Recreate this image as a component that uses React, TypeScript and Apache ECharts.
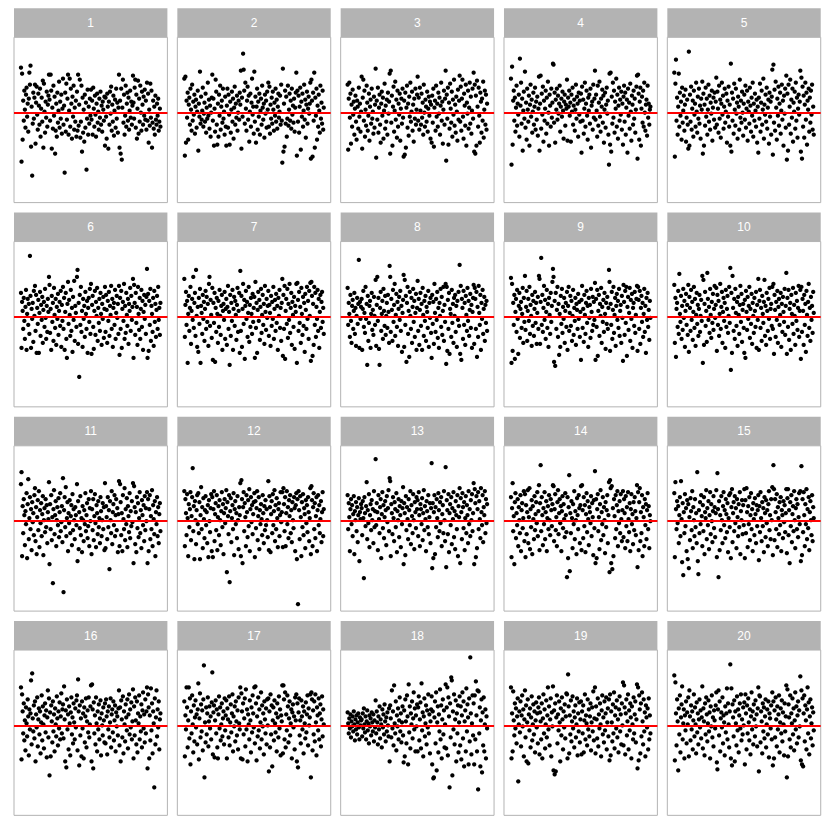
import React, { useEffect, useRef } from "react";
import * as echarts from "echarts";

// Residual values per panel (plot units: 0 = red reference line), in index order
const panelLabels = ["1","2","3","4","5","6","7","8","9","10","11","12","13","14","15","16","17","18","19","20"];

const panel1 = [
45,-49,39,-27,12,-8,22,3,-15,18,25,-4,9,-19,14,40,28,47,-34,6,-63,-11,20,-6,15,
28,-31,10,26,-2,-17,19,7,-12,24,-24,4,15,-9,32,-35,29,1,-20,11,-5,21,-14,8,17,
38,13,-8,38,22,-36,5,-16,27,-3,16,-41,-18,9,-24,20,-10,2,31,-15,11,-6,18,-21,4,
34,-12,7,-60,20,-19,29,-7,14,38,-22,2,34,-14,24,9,-26,16,-4,27,-17,5,-9,12,-24,
21,-18,38,-13,8,33,-25,-9,27,-39,15,-20,3,-29,18,-15,10,-57,-6,23,-22,6,-11,14,-3,
23,-7,12,-22,25,4,-14,17,-2,-24,9,19,-10,1,-17,14,-5,21,-12,7,-19,11,3,-8,16,
-33,15,-4,-26,19,6,-36,11,-12,21,-1,26,-18,8,-9,17,-23,2,13,-15,24,-6,10,-20,5,
38,-35,12,-41,24,-47,5,33,-10,18,-22,-3,27,-14,9,20,-8,15,-17,2,22,-5,11,-12,7,
37,10,-6,25,33,-15,18,-26,4,32,-21,14,-9,27,0,-18,21,8,-12,16,-3,23,-7,12,-17,
30,-8,19,-30,3,-13,29,-5,22,-35,-10,12,-16,6,-22,17,-7,-12,9,-3,14,-18,-9,4,-14];

const panel2 = [
34,-43,36,-30,12,-5,20,-27,8,15,-12,24,3,-18,28,-8,11,-2,18,-21,6,13,-15,1,22,
-38,9,-4,41,-11,16,-7,2,25,-14,-1,10,-9,19,-20,5,-6,30,-3,13,-16,7,-24,0,15,
38,-8,14,-33,4,-19,33,21,-12,-32,9,-24,18,-3,27,-17,6,12,-10,24,-6,1,-22,16,-14,
-33,7,24,-15,18,-2,-32,11,-20,3,21,-9,14,-26,5,26,-12,9,-5,17,-18,0,12,-7,20,
8,42,-36,15,-4,59,43,22,-11,30,4,-18,12,26,-7,17,-29,1,19,-14,10,34,-2,6,-21,
41,-9,16,-30,6,24,-17,11,-4,19,-22,2,14,-12,27,5,-7,9,-25,18,-1,12,-15,21,3,
30,-14,26,-21,8,-6,15,-11,21,3,-18,10,-3,24,-9,13,-16,6,19,-5,1,17,-12,28,-8,
-50,44,-39,9,-34,22,-11,16,-24,-6,27,-13,3,19,-8,12,-16,24,-2,7,-10,14,-19,5,20,
40,-43,22,-9,17,-20,6,25,-37,11,-4,19,-14,2,28,-7,13,-25,8,21,-11,4,16,-1,9,
30,-46,33,12,-44,20,-8,40,-35,15,-3,24,-27,7,-14,18,2,-20,27,-6,10,-11,22,-17,5];

const panel3 = [
28,-37,14,30,-5,19,-31,8,-14,23,-2,11,-22,4,17,-9,-27,12,6,-16,25,-4,9,-19,1,
36,-36,15,33,-8,22,-24,3,-13,27,10,-18,-3,19,-28,6,13,-11,24,-6,1,-21,16,-15,8,
44,-45,12,-7,25,-20,5,18,-12,-30,9,21,-3,15,-26,2,29,-16,7,-9,13,-22,20,-1,11,
39,-41,42,-10,17,-33,6,26,-19,2,31,-7,13,-25,22,-14,9,-2,19,-28,4,14,-11,24,-5,
-44,12,-42,20,-35,5,27,-15,9,-23,16,-4,30,-9,1,21,-18,8,-29,14,-6,24,-12,3,18,
36,-8,15,-17,25,2,-12,19,-5,10,-22,28,0,-14,13,6,-9,21,-19,4,16,-3,11,-26,8,
-30,17,-10,24,-34,5,12,-18,27,-4,9,-14,20,-1,15,-22,7,30,-8,11,-31,3,22,-12,14,
42,-48,18,-6,25,-32,10,-16,29,4,-10,21,-24,13,-2,33,-13,8,-20,16,1,-28,23,-7,12,
37,-9,26,-18,14,33,-4,-26,19,7,-13,28,-33,10,-1,22,-16,5,30,-11,16,-21,2,24,-6,
40,-39,28,-41,17,-33,32,6,-14,25,-3,-30,20,11,-20,14,-8,31,-25,3,22,-12,18,-17,9];

const panel4 = [
34,-52,46,-32,12,22,-8,15,-19,5,27,-13,9,-2,18,-24,54,7,30,-11,14,-38,2,21,-6,
41,-15,10,-27,24,3,-9,17,-33,8,28,-4,13,-20,1,20,-12,6,25,-17,11,-7,16,-23,4,
36,-38,9,37,-16,19,-2,26,-29,12,-8,4,22,-21,15,-11,31,0,-33,18,7,-14,24,-5,10,
49,48,-10,20,-30,13,3,24,-7,17,-1,9,27,-19,6,14,-4,21,2,-26,11,18,-13,8,4,
33,-28,15,6,22,-3,10,-29,18,1,25,-12,7,13,-18,3,28,-6,16,9,-24,20,-2,12,-9,
19,-40,26,-8,13,-21,4,30,-14,9,22,-3,-27,15,2,18,-11,24,-35,7,11,-17,28,-5,14,
42,-7,18,2,-24,27,-13,10,31,-4,-19,14,6,23,-10,17,-30,3,20,-15,8,25,-1,12,-22,
-52,39,-32,40,-39,16,-11,30,-5,22,-20,11,4,34,-14,18,-26,7,25,-8,13,-2,21,-17,9,
-32,16,27,-9,20,-22,5,13,-40,24,-3,10,-16,29,1,-28,17,8,-12,22,-6,14,-20,3,26,
37,-46,38,19,-27,11,25,-33,4,16,-10,22,-14,30,0,-18,8,13,-23,27,-5,9,-12,3,6];

const panel5 = [
40,-44,29,53,-8,15,-22,6,39,-14,20,-3,11,-27,25,-10,2,17,-18,8,23,-29,-5,13,-12,
-36,61,-33,18,-9,26,-17,4,12,-24,22,-2,9,-14,30,1,-20,16,-6,24,-11,7,-26,14,3,
31,-41,19,-33,8,-13,25,-4,14,-22,3,28,-9,17,-17,10,-1,22,-28,5,15,-7,20,-15,11,
35,-12,21,4,-20,27,-6,13,-25,9,30,-2,17,-16,6,24,-10,1,19,-30,12,-4,26,-14,8,
-33,49,-39,20,-8,14,-21,29,3,-13,24,-1,10,-26,16,6,-17,33,-5,12,-10,21,0,-23,9,
18,-7,27,-15,4,22,-28,11,1,-11,25,7,-19,15,-3,30,-24,9,-8,19,2,-14,13,-30,6,
-40,15,-6,29,-19,10,22,-12,3,34,-26,8,-2,18,-9,25,-16,5,13,-31,20,-4,11,-22,16,
43,-42,48,-10,23,-18,31,5,-27,14,-3,26,-13,9,20,-21,2,28,-7,12,-33,17,-1,24,-15,
37,-47,19,-38,28,-12,6,33,-21,13,-5,24,-29,10,1,21,-16,30,-8,15,-25,4,18,-2,11,
42,-39,35,-46,26,-14,17,-25,8,30,-7,20,-32,12,3,24,-19,15,-10,22,-2,28,-17,6,-22];

const panel6 = [
24,-31,15,6,-12,19,-4,-22,10,27,-33,3,18,-8,13,-17,61,21,-31,8,-2,14,-25,26,1,
31,-14,22,-36,9,-7,17,-36,4,25,-19,12,-3,20,-26,7,15,-10,28,-1,-22,11,-15,18,5,
40,32,-16,8,-33,21,-5,14,-24,29,2,-11,18,-28,10,-2,23,-18,6,15,-9,26,-30,12,-4,
30,-12,19,-33,5,24,-22,-41,13,35,-7,17,2,-19,27,-14,9,-35,20,-3,36,-24,11,4,-10,
40,47,-27,14,-60,22,-8,30,-15,6,-30,18,-2,11,-20,25,3,-12,16,-36,9,19,-5,28,-17,
33,-37,12,21,-10,-32,6,26,-18,15,1,29,-24,9,-6,18,-14,24,3,-28,13,-2,20,-21,8,
30,-15,22,7,-26,16,-4,25,-19,11,2,31,-12,18,-30,9,14,-8,27,-22,4,21,-1,13,-17,
31,-38,19,-12,26,-31,8,15,-4,33,-22,11,-16,24,2,-9,18,-27,13,6,29,-14,21,-3,10,
38,-41,32,14,-18,24,-6,10,-28,30,3,-13,19,-22,8,27,-10,16,-33,5,22,-2,12,-17,20,
48,-41,23,-34,16,-8,28,-24,11,3,-15,19,-29,26,-5,13,-20,7,21,-12,30,-3,9,-18,14];

const panel7 = [
38,-20,12,25,-8,16,-46,3,21,-14,9,30,-27,6,18,-3,40,-11,14,24,-19,47,1,-30,10,
-35,19,-7,28,-46,11,4,-17,22,-2,15,-24,8,26,-12,20,-5,13,-29,33,40,-9,17,2,-21,
29,-43,14,-6,24,-45,9,-15,19,3,-26,16,-10,27,1,-18,11,22,-33,6,13,-3,25,-22,8,
18,-28,10,31,-12,5,-48,22,-19,14,-4,27,-33,8,20,-9,16,2,-23,12,29,-15,6,24,-36,
46,-14,21,-30,8,33,-7,17,-42,11,26,-2,15,-20,4,30,-25,12,-10,19,3,-17,23,-5,9,
20,-41,35,-11,14,-36,7,25,-4,17,-23,10,28,-16,2,22,-8,13,-27,31,5,-13,18,-1,11,
26,-19,12,4,-29,21,-9,15,-2,30,-22,8,17,-14,23,-6,11,-33,19,1,27,-11,9,-24,14,
38,-39,22,-12,31,-42,6,18,-7,28,-21,13,-3,33,-16,9,24,-28,15,2,-10,20,-32,11,5,
33,-46,34,17,-14,25,-6,10,-26,29,3,-18,20,-9,14,-35,23,7,-12,30,-2,16,-22,26,1,
34,-44,35,21,-39,13,-28,30,-8,24,-20,10,-2,27,-14,18,-31,5,22,-11,15,25,-5,9,-17];

const panel8 = [
29,-8,14,3,-20,22,-4,-26,11,17,-12,6,24,-17,9,-29,1,19,-7,13,57,-31,15,-2,10,
18,-33,8,26,-10,4,-16,30,-2,13,-48,21,-24,-6,11,16,-31,3,24,-13,7,-18,20,1,-8,
37,-29,12,40,-4,19,-32,-48,9,25,-14,3,16,-22,28,6,-9,21,-18,1,14,-11,22,5,-26,
51,40,-15,18,7,-24,27,-5,12,33,-19,2,23,-10,15,-29,8,20,-3,26,-14,11,-35,4,17,
42,-30,37,-8,21,-45,14,30,-17,6,-40,25,1,-12,19,-26,10,28,-5,16,-20,4,23,-33,9,
36,-14,18,-28,7,24,-9,13,-33,29,2,-19,16,-4,21,-24,10,5,-11,26,-30,14,-1,19,-16,
-41,22,-7,15,-27,33,4,-15,18,-3,25,-21,9,-31,14,1,28,-10,20,-18,6,30,-24,12,-5,
33,-47,30,-34,17,-12,24,-37,8,3,-20,27,-6,13,-26,19,1,22,-15,11,-30,16,-3,25,-9,
52,-37,31,-43,18,9,-22,26,-8,14,-28,21,2,-14,29,-4,16,-19,7,23,-11,12,-31,5,19,
32,-27,29,18,-12,25,-40,10,-20,31,4,-8,22,-33,14,-2,27,-17,8,20,-24,12,-6,16,-14];

const panel9 = [
39,-46,33,-34,14,-8,22,-42,5,18,-15,27,-2,-37,11,24,-21,8,15,-11,3,29,-26,19,-5,
41,-13,10,26,-24,6,18,-4,30,-17,12,1,-29,22,-9,16,-19,8,25,-6,14,-27,4,20,-12,
41,38,-27,15,59,-8,22,-15,9,31,-3,17,-22,5,27,-11,13,-30,19,2,-17,24,-5,11,35,
48,40,-45,16,-49,24,-12,7,30,-20,13,-38,3,-30,21,-7,28,-16,10,-2,19,-26,6,14,-10,
25,-33,11,30,-14,4,21,-9,16,-24,1,27,-18,9,-4,19,-28,13,7,-12,23,-2,15,-20,5,
-43,17,31,-11,8,-25,22,2,-17,14,26,-6,11,-30,19,-1,12,-21,28,5,-14,20,-8,15,-3,
34,-43,18,-10,27,-39,6,22,-19,13,1,29,-26,10,-5,17,-15,24,3,-32,14,-7,20,-12,9,
47,35,-34,13,-8,25,-22,7,30,-16,2,19,-29,11,23,-3,16,-11,28,-19,6,12,-26,21,-1,
-44,32,15,-18,26,-6,30,-39,10,20,-13,4,29,-24,17,-2,23,-31,9,14,-9,25,-16,2,18,
31,-34,30,17,-12,26,-27,9,21,-5,14,-20,3,28,-15,11,-36,19,-3,24,-10,7,-23,16,-1];

const panel10 = [
32,-26,19,-40,8,14,-10,26,-17,43,3,-5,21,-22,11,-13,28,-1,16,-30,6,23,-8,12,-18,
32,-35,20,9,-14,27,-3,15,-23,5,30,-11,18,-29,2,24,-7,12,-19,8,22,-15,1,17,-4,
41,-46,37,-28,13,25,-9,6,-25,44,18,-3,10,-16,28,2,-21,15,-6,23,-13,8,31,-1,12,
29,-34,22,-8,16,-19,3,33,-12,10,25,-26,5,19,-4,14,-31,27,-10,8,21,-16,1,30,-6,
49,-53,24,-36,41,9,-14,18,-22,28,4,-9,15,-29,20,2,-17,12,31,-5,23,-25,7,13,-11,
-36,17,-41,26,5,-13,20,-2,11,30,-21,8,-7,23,-27,14,1,-16,19,6,-10,25,-31,12,-3,
38,-33,16,27,-11,9,-24,21,3,-6,15,37,-19,11,-28,24,6,-14,18,-2,29,-22,8,13,-9,
30,-12,33,-37,22,7,-20,15,-3,26,-26,10,18,-8,2,24,-30,13,-15,20,5,-5,28,-18,11,
44,-37,19,-10,27,-23,8,14,-33,22,3,-7,29,-17,12,1,-28,24,-4,16,-13,9,31,-20,6,
27,-42,30,-15,18,6,-28,22,-8,13,-35,26,2,-19,15,33,-11,9,-24,20,-3,11,-16,25,4];

const panel11 = [
37,49,-35,15,-12,22,6,-24,10,-3,28,-37,17,42,-18,3,24,-8,12,-29,19,-1,8,-14,26,
33,-20,14,-33,4,21,-9,30,-26,11,-2,18,-15,7,25,-34,1,13,-11,22,-6,16,-22,9,2,
39,-43,17,-8,26,-19,4,-62,12,31,-13,6,20,-25,1,14,-4,23,-16,9,28,-10,-1,15,-21,
43,-71,11,24,-6,34,-15,3,19,-30,8,-2,21,-12,5,16,-24,27,-9,12,1,-18,14,6,-4,
37,-40,20,-28,9,-7,25,-14,3,-31,15,1,-20,11,-3,28,-10,6,18,-17,-5,22,-25,13,0,
30,-33,12,-9,22,-19,5,27,-2,-26,16,8,-13,20,-6,3,-22,24,10,-15,1,18,-8,14,-29,
38,-27,15,4,-18,24,-6,11,-48,20,1,-12,30,-23,9,17,-4,26,-15,6,22,-9,13,-31,7,
40,-25,37,19,-14,8,-30,26,2,-8,33,-19,12,-3,23,-26,15,5,-11,28,-17,10,-5,20,-1,
38,-42,35,14,-23,9,-31,24,-7,18,-16,3,29,-12,11,-27,21,6,-4,16,-20,25,-9,13,0,
29,-42,22,-30,12,26,-18,5,-8,31,-25,16,2,-13,20,-35,9,-3,24,-15,14,-22,7,18,-10];

const panel12 = [
30,-25,22,8,-14,27,3,-35,17,-6,12,29,-19,5,24,53,-10,15,-38,20,1,-23,11,26,-3,
28,-12,19,-38,6,34,-8,14,-27,23,2,-17,11,25,-4,9,-22,16,-36,21,0,-11,13,27,-30,
24,-36,12,30,-20,7,18,-9,26,-29,4,15,-14,21,1,-24,10,29,-6,17,-33,8,22,-2,13,
31,-51,19,5,-13,26,-61,10,23,-21,3,16,-8,28,-34,12,20,-3,8,-17,25,1,-28,14,6,
38,-35,41,22,-42,14,29,-10,18,4,-25,26,9,-16,21,-5,32,-30,12,24,-1,16,-13,7,19,
28,-36,20,-7,13,30,-19,5,24,-28,11,-3,17,2,-14,26,8,-22,15,-9,21,-4,12,1,-16,
40,-29,25,14,-31,7,20,-12,27,-4,10,31,-20,16,-8,23,3,-26,12,18,-15,6,29,-1,9,
29,-26,33,17,-10,24,-25,8,30,-3,14,-17,21,5,26,-12,11,-21,19,1,-7,24,13,-30,16,
28,-38,22,-83,30,11,-18,25,4,-35,19,-6,27,-14,13,7,-27,21,-2,16,-11,24,9,-20,3,
33,-33,35,21,-25,14,28,-8,18,-17,5,24,-30,11,26,-4,16,-12,2,20,-21,9,29,-15,12];

const panel13 = [
26,-8,18,4,-30,12,22,-3,16,-15,7,25,-33,10,1,19,-10,14,-21,6,23,-40,9,2,17,
13,-14,20,3,-57,24,8,-5,15,39,-18,11,-2,27,-26,6,17,-9,21,1,12,-22,30,-6,10,
62,-4,18,9,-29,26,2,-12,14,22,-37,7,29,-7,16,-17,4,20,11,-24,25,-1,13,31,-10,
43,40,-35,17,8,-13,24,3,-20,19,12,-6,28,-31,10,1,22,-16,15,6,-26,20,-3,13,34,
-43,18,8,-34,25,-9,14,2,-18,22,11,-4,30,-23,16,5,-12,27,1,-28,19,9,-7,24,12,
21,-15,29,6,-25,17,12,-3,23,-19,8,31,-9,15,2,-30,20,10,-6,26,-13,4,18,-22,13,
58,-47,18,-37,9,26,-33,14,-6,22,3,-16,28,11,-10,19,-2,24,-25,7,16,-12,30,1,-20,
54,-46,21,11,-13,27,-31,8,17,-4,24,-23,13,2,29,-16,10,-28,20,6,-8,26,-35,15,4,
33,-42,23,9,-18,28,14,-7,19,-29,3,25,-12,16,6,-22,30,-3,12,-15,21,1,27,-10,8,
38,-43,32,18,-36,25,-27,12,29,-8,20,2,-17,33,9,-4,26,-21,14,6,30,-12,22,-2,17];

const panel14 = [
24,-36,13,38,-10,5,-43,19,28,-17,8,-4,22,-25,14,1,-12,26,-30,11,18,-7,3,30,-20,
27,-36,16,-13,9,31,-22,4,33,-28,12,-6,21,-33,15,2,-18,25,-9,7,19,-2,29,-15,10,
36,-29,18,56,-10,24,6,-24,13,-3,29,-18,9,20,-30,3,15,-8,26,1,-14,22,11,-5,17,
36,35,-20,12,27,-9,4,-25,19,31,-13,8,22,-2,15,-30,10,25,-7,17,2,-16,28,6,-11,
-56,24,-37,14,46,-50,8,-12,20,3,-27,17,-3,30,-18,10,1,-33,23,6,-8,26,13,-22,16,
35,-29,36,11,-17,24,-5,16,-31,7,28,-11,20,2,-24,14,9,-2,25,-15,18,4,-34,21,-7,
50,-42,22,-37,12,27,-10,4,-28,17,31,-19,9,-3,24,-14,14,1,-32,19,-6,11,26,-22,6,
39,-51,41,33,-42,35,-48,13,-35,22,5,-17,26,-8,16,30,-25,10,-2,20,-12,27,2,-20,11,
30,-16,22,8,-27,25,-5,14,-20,29,2,-11,18,-30,12,27,-3,7,-23,19,-9,24,10,-14,3,
36,-46,29,-29,19,33,-20,9,-12,26,-35,14,4,-25,22,-4,17,-18,11,28,-8,15,-27,6,0];

const panel15 = [
28,-36,39,12,-8,20,-2,15,-22,6,24,-15,40,2,-41,18,-54,9,-12,27,-5,13,-30,21,-38,
17,-47,4,-19,23,10,-9,30,-27,14,1,-15,22,-6,8,-22,49,-40,-53,11,-12,19,-3,26,5,
-25,16,-10,24,-33,9,3,31,-18,13,-4,20,-28,6,29,-13,17,0,-21,10,25,-7,14,-16,8,
31,-36,48,12,-56,20,-29,6,-9,25,1,-22,15,29,-4,11,-17,22,7,-11,18,-31,3,26,-6,
28,-37,14,32,-21,8,19,-10,25,-2,13,-27,22,4,-15,17,-6,29,-33,10,1,21,-13,16,-4,
32,-37,21,-12,33,9,-26,15,-3,24,-19,6,28,-8,12,-30,18,2,-14,23,7,-22,16,-5,11,
26,-39,15,-11,29,3,-20,19,-5,13,-31,24,8,-16,21,-2,11,-25,17,30,-9,6,-18,22,1,
34,-34,56,32,-19,22,9,-8,27,-26,14,3,-13,19,-4,24,-30,11,6,-17,20,-1,16,-11,8,
32,-32,23,32,-14,11,-42,19,-5,26,-21,7,15,-10,30,1,-27,13,22,-8,17,-16,4,28,-3,
30,-40,55,-34,22,-11,29,6,-25,17,-3,32,-18,12,-7,24,-29,9,20,1,-14,26,-20,14,3];

const panel16 = [
38,-34,31,14,-8,22,-15,5,-25,18,2,-11,26,9,-30,16,-4,12,45,-19,52,7,-6,20,-13,
24,-36,11,-2,28,-21,6,17,-9,14,-28,3,30,-15,19,1,-23,10,22,-7,15,-32,8,35,-12,
27,-50,13,-31,20,4,-17,24,-6,11,-26,17,1,-11,29,7,-20,14,-3,23,-14,9,32,-8,16,
21,-13,39,6,-36,15,-42,26,-4,11,-24,19,2,-30,13,28,-9,8,-18,22,3,-14,17,-2,25,
30,-25,46,14,-40,20,-10,7,-31,24,-3,12,-33,18,-17,9,27,-22,4,15,-7,28,-12,1,19,
40,-36,41,16,-43,23,-8,10,-19,28,2,-26,14,-4,21,-14,7,25,-30,12,0,-10,18,5,-17,
22,-18,26,9,-29,14,-4,19,-12,3,27,-22,11,16,-7,24,-15,5,20,-26,13,-1,9,-10,17,
35,-20,18,-36,25,6,-12,29,-28,14,1,-16,21,8,-5,26,-23,11,31,-9,16,-2,23,-14,4,
36,-33,19,-10,28,5,-19,24,-27,12,2,30,-14,9,-6,21,-22,15,33,-3,11,-17,26,-8,14,
38,-43,31,18,-33,10,-15,37,-5,22,-28,14,2,-62,27,-19,8,35,-11,16,-2,24,-24,6,12];

const panel17 = [
24,-31,10,-4,38,18,-22,5,38,-13,27,-39,14,-8,30,1,-27,20,-16,8,25,-2,11,-19,16,
42,-34,7,32,-12,21,-6,15,-25,26,60,-52,3,-17,18,-9,12,28,-21,4,19,-3,9,-14,23,
53,-29,13,20,-32,5,25,-8,16,-22,-33,11,29,-3,18,-15,1,22,-11,7,14,-19,27,-5,10,
25,-33,17,6,-12,29,-20,3,21,-7,12,31,-26,9,-1,19,-16,24,4,-10,15,-24,28,2,-4,
38,-33,32,14,-34,22,-9,7,27,-21,36,-4,16,-36,11,1,-14,25,5,-27,18,-7,30,12,-2,
38,-18,39,22,-35,9,-11,28,-5,16,-23,3,33,-14,20,-1,12,-29,24,6,-8,17,-19,26,0,
27,-46,14,-22,31,-9,20,-41,5,18,-15,25,2,-7,12,-26,22,8,-12,29,-3,16,-30,10,4,
40,-28,40,26,-14,33,-22,11,-5,30,19,-17,7,24,-10,2,16,-33,13,21,-2,9,-24,28,5,
31,-36,22,-42,13,27,-10,5,-18,25,9,-4,19,-28,14,2,-13,23,-7,11,30,-20,17,0,8,
31,-52,33,26,-25,15,-9,24,-16,31,3,-30,18,10,-5,27,-14,12,21,-21,6,29,-11,16,1];

const panel18 = [
13,2,-8,7,-3,11,-12,4,-1,9,-6,14,1,-15,6,-4,10,-9,3,12,-2,-14,8,0,5,
6,-11,12,-3,17,1,-7,9,-14,4,15,-5,2,-18,10,-1,7,-10,13,3,-6,11,-16,5,-2,
25,-8,14,3,-19,9,-4,19,-13,6,1,-22,16,-2,11,-9,21,4,-16,8,-6,13,0,-11,17,
-36,20,7,-12,35,-3,14,-20,40,2,-8,24,-25,10,-1,17,-14,5,28,-6,12,-17,3,19,-10,
-37,15,-31,26,4,-18,30,9,-39,41,-7,19,-23,12,1,24,-13,7,33,-4,17,-26,10,-1,21,
-26,18,29,-15,6,23,-23,42,-5,13,-31,9,27,-11,2,20,-19,15,-2,31,-8,11,-28,4,16,
29,-39,14,-53,-52,8,24,-18,33,-45,3,19,-27,11,-6,36,-14,20,-33,6,26,-9,15,-22,1,
41,-23,18,38,-30,28,9,-62,22,-12,48,45,-50,14,-4,31,-19,6,25,-36,12,-8,20,-27,3,
29,-20,19,-34,10,33,-13,24,-41,4,15,-26,37,-6,21,8,-39,27,-16,68,12,-29,2,30,-10,
22,-39,30,-14,44,10,-26,35,-64,34,-8,18,-41,5,26,-47,13,-20,28,-26,1,16,-33,9,-3];

const panel19 = [
38,-33,12,-26,34,5,-10,22,-3,17,-18,9,27,-56,1,14,-7,24,-21,10,30,-1,16,-31,6,
35,-12,20,-36,3,26,-38,11,-5,17,-22,8,29,-15,1,21,-9,14,-27,5,23,-2,12,-18,18,
28,-29,13,4,-14,22,-33,7,31,-8,16,-23,1,25,-12,10,38,-4,19,-20,6,27,-31,13,-1,
39,-45,15,-49,22,-46,8,30,-18,11,-5,24,3,-36,17,-10,28,6,-24,14,-2,21,-13,9,32,
31,-33,51,19,-28,10,-9,25,-16,4,29,-3,14,-22,8,20,-12,1,27,-30,12,-6,23,-17,6,
24,-29,14,-8,20,-27,5,31,-14,10,2,-20,26,-4,16,-11,9,22,-25,3,18,-6,34,-15,7,
38,-28,19,6,-13,27,-21,11,-3,22,1,-31,15,30,-9,8,-17,24,-5,12,28,-24,3,17,-11,
26,-35,31,-30,14,3,-16,21,-8,33,-23,10,18,-3,25,-12,6,-27,16,29,-6,11,-19,22,0,
43,-20,40,18,-29,12,26,-10,4,31,-24,15,-5,22,8,-33,19,1,-14,28,-8,11,24,-17,6,
41,-43,38,-35,30,16,-28,22,-11,33,4,-19,26,-6,13,-31,20,8,-2,17,-24,27,-14,10,-8];

const panel20 = [
50,-35,43,12,-20,26,4,-45,17,-9,30,-27,8,21,39,-14,2,16,-33,10,-5,24,-18,13,1,
28,-31,35,9,-15,20,-4,14,-24,5,31,-11,18,1,-28,23,-7,12,-19,6,26,-2,15,-13,8,
39,-23,17,4,-30,22,-9,28,11,-16,2,25,-6,13,-33,19,-1,30,-12,8,-21,15,5,-3,20,
33,-37,-44,16,35,-10,24,-26,7,13,-2,28,-18,10,3,-30,19,-7,12,37,-14,22,1,-22,14,
61,-33,37,-40,21,8,-11,25,-36,14,2,-20,29,-5,16,-27,10,22,-3,31,-15,6,-9,18,0,
23,-39,31,12,-24,20,-8,27,3,-15,16,-29,9,33,-4,14,-19,21,6,-11,25,-1,11,-21,17,
38,-46,30,29,-17,14,4,-28,22,-6,18,-13,9,26,-22,1,16,-9,24,-32,12,7,-3,20,-14,
33,-40,24,-33,15,-12,28,6,-21,19,-4,11,30,-27,3,17,-8,25,-16,13,1,-30,22,-6,9,
40,-52,36,-31,21,8,-14,30,-22,12,2,27,-9,17,-25,5,33,-4,19,-18,10,24,-12,15,-1,
49,-35,35,-39,27,-41,12,30,-16,20,5,-24,16,38,-8,23,-29,9,26,-13,2,18,-20,13,-5];

const panels = [panel1, panel2, panel3, panel4, panel5, panel6, panel7, panel8, panel9, panel10,
  panel11, panel12, panel13, panel14, panel15, panel16, panel17, panel18, panel19, panel20];

const Y_MIN = -89.9;
const Y_MAX = 75.4;

export default function App() {
  const ref = useRef<HTMLDivElement>(null);
  useEffect(() => {
    document.body.style.margin = "0";
    const chart = echarts.init(ref.current as HTMLDivElement, null, { renderer: "svg" });
    const cols = 5;
    const W = 153.4;
    const H = 165.3;
    const stripH = 29;
    const grids: any[] = [];
    const xAxes: any[] = [];
    const yAxes: any[] = [];
    const series: any[] = [];
    const graphics: any[] = [];
    panels.forEach((vals, k) => {
      const r = Math.floor(k / cols);
      const c = k % cols;
      const left = 14 + c * 163.33;
      const top = 37.3 + r * 204.25;
      grids.push({ left, top, width: W, height: H, show: true, borderColor: "#B3B3B3", borderWidth: 1, backgroundColor: "#FFFFFF", containLabel: false });
      const n = vals.length;
      const pad = 0.05 * (n - 1);
      xAxes.push({ type: "value", gridIndex: k, min: 1 - pad, max: n + pad, show: false, splitLine: { show: false } });
      yAxes.push({ type: "value", gridIndex: k, min: Y_MIN, max: Y_MAX, show: false, splitLine: { show: false } });
      series.push({
        type: "scatter",
        xAxisIndex: k,
        yAxisIndex: k,
        data: vals.map((v, i) => [i + 1, v]),
        symbolSize: 4.3,
        itemStyle: { color: "#000000", opacity: 1 },
        silent: true,
        markLine: {
          silent: true,
          symbol: ["none", "none"],
          label: { show: false },
          lineStyle: { color: "#FF0000", width: 2, type: "solid" },
          data: [{ yAxis: 0 }],
        },
      });
      graphics.push({ type: "rect", shape: { x: left, y: top - stripH, width: W, height: stripH }, style: { fill: "#B3B3B3" } });
      graphics.push({
        type: "text",
        x: left + W / 2,
        y: top - stripH / 2,
        style: { text: panelLabels[k], fill: "#FFFFFF", fontSize: 12, fontFamily: "'Liberation Sans', Arial, sans-serif", align: "center", verticalAlign: "middle" },
      });
    });
    chart.setOption({ animation: false, grid: grids, xAxis: xAxes, yAxis: yAxes, series, graphic: graphics });
    return () => chart.dispose();
  }, []);
  return <div ref={ref} style={{ width: 830, height: 830 }} />;
}
